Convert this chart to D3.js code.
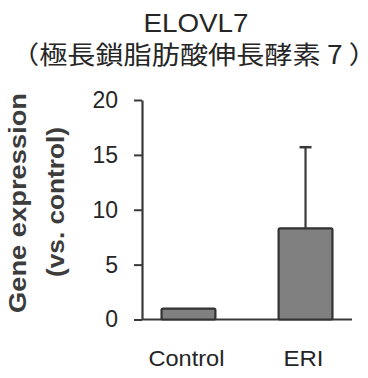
<!DOCTYPE html>
<html>
<head>
<meta charset="utf-8">
<script src="https://cdn.jsdelivr.net/npm/d3@7"></script>
<style>
  html, body { margin: 0; padding: 0; background: #fff; }
  svg { display: block; }
  text { font-family: "Liberation Sans", Arial, sans-serif; fill: #262626; }
</style>
</head>
<body>
<svg id="chart" width="368" height="378"></svg>
<script>
const categories = ["Control", "ERI"];
const values = [1.0, 8.3];
const errors = [0, 7.4];
const yTicks = [0, 5, 10, 15, 20];
const titleText = "ELOVL7";
const subtitleText = "（極長鎖脂肪酸伸長酵素 7 ）";
const yLabel1 = "Gene expression";
const yLabel2 = "(vs. control)";

const svg = d3.select("#chart");
const axisColor = "#3a3a3a";

const x = d3.scaleBand().domain(categories).range([142, 352])
  .paddingInner(0.54).paddingOuter(0.167);
const y = d3.scaleLinear().domain([0, 20]).range([319.5, 100]);

// title
svg.append("text").attr("x", 196).attr("y", 32).attr("text-anchor", "middle")
  .style("font-size", "25px").attr("textLength", 105).attr("lengthAdjust", "spacingAndGlyphs")
  .text(titleText);
svg.append("text").attr("x", 194).attr("y", 64).attr("text-anchor", "middle")
  .style("font-family", "'Noto Sans CJK JP', sans-serif").style("font-size", "25px")
  .attr("textLength", 366).attr("lengthAdjust", "spacingAndGlyphs")
  .text(subtitleText);

// y axis
const yAxis = d3.axisLeft(y).tickValues(yTicks).tickSize(8).tickSizeOuter(0).tickPadding(16);
const gy = svg.append("g").attr("transform", "translate(142,0)").call(yAxis);
gy.select(".domain").attr("stroke", axisColor).attr("stroke-width", 2.2);
gy.selectAll(".tick line").attr("stroke", axisColor).attr("stroke-width", 2);
gy.selectAll(".tick text").style("font-size", "23px").style("font-family", "'Liberation Sans', Arial, sans-serif")
  .attr("fill", "#2e2e2e");

// baseline
svg.append("line").attr("x1", x.range()[0]).attr("x2", x.range()[1])
  .attr("y1", y(0)).attr("y2", y(0)).attr("stroke", axisColor).attr("stroke-width", 2);

// error bars (behind bars)
const data = categories.map((c, i) => ({ c, v: values[i], e: errors[i] }));
const eb = svg.append("g").selectAll("g").data(data.filter(d => d.e > 0)).join("g");
eb.append("line").attr("x1", d => x(d.c) + x.bandwidth() / 2).attr("x2", d => x(d.c) + x.bandwidth() / 2)
  .attr("y1", d => y(d.v)).attr("y2", d => y(d.v + d.e)).attr("stroke", axisColor).attr("stroke-width", 2.2);
eb.append("line").attr("x1", d => x(d.c) + x.bandwidth() / 2 - 6).attr("x2", d => x(d.c) + x.bandwidth() / 2 + 6)
  .attr("y1", d => y(d.v + d.e)).attr("y2", d => y(d.v + d.e)).attr("stroke", axisColor).attr("stroke-width", 2.5);

// bars
svg.append("g").selectAll("rect").data(data).join("rect")
  .attr("x", d => x(d.c)).attr("width", x.bandwidth())
  .attr("y", d => y(d.v)).attr("height", d => y(0) - y(d.v))
  .attr("rx", 1.5)
  .attr("fill", "#808080").attr("stroke", "#333").attr("stroke-width", 2.2);

// x labels
svg.append("g").selectAll("text").data(data).join("text")
  .attr("x", d => x(d.c) + x.bandwidth() / 2 - 2).attr("y", 366).attr("text-anchor", "middle")
  .style("font-size", "22px")
  .attr("textLength", d => d.c === "Control" ? 76 : 40).attr("lengthAdjust", "spacingAndGlyphs")
  .text(d => d.c);

// y label
svg.append("text").attr("transform", "translate(26,203) rotate(-90)").attr("text-anchor", "middle")
  .style("font-size", "23px").style("font-weight", "bold").style("fill", "#3c3c3c")
  .attr("textLength", 220).attr("lengthAdjust", "spacingAndGlyphs").text(yLabel1);
svg.append("text").attr("transform", "translate(64,202) rotate(-90)").attr("text-anchor", "middle")
  .style("font-size", "23px").style("font-weight", "bold").style("fill", "#3c3c3c")
  .attr("textLength", 150).attr("lengthAdjust", "spacingAndGlyphs").text(yLabel2);
</script>
</body>
</html>
